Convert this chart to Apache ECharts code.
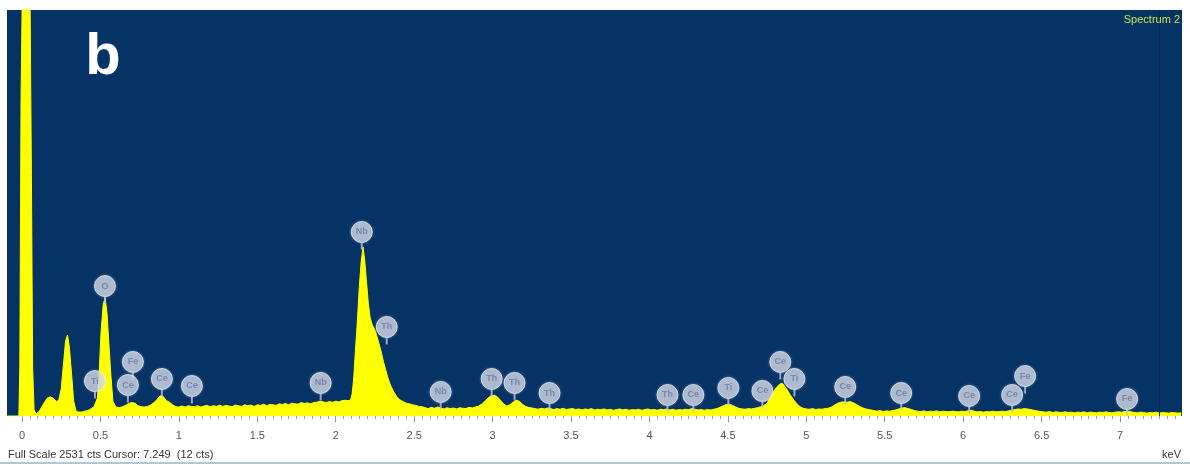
<!DOCTYPE html>
<html>
<head>
<meta charset="utf-8">
<script src="https://cdn.jsdelivr.net/npm/echarts@6/dist/echarts.min.js"></script>
<style>
html,body{margin:0;padding:0;background:#ffffff;}
#chart{width:1190px;height:466px;}
</style>
</head>
<body>
<div id="chart"></div>
<script>
// ---- Data (energy in keV, intensity in counts) ----
const fullScaleCounts = 2531;
const cursorKeV = 7.249;
const energyTickLabels = ['0','0.5','1','1.5','2','2.5','3','3.5','4','4.5','5','5.5','6','6.5','7'];

const zeroPeak = [[-0.095,0],[-0.02,0],[-0.014,300],[-0.006,2000],[0.005,2900],[0.02,3000],[0.035,3000],[0.05,2800],[0.06,1500],[0.068,300],[0.077,40],[0.09,12]];

const lowEnergy = [[0.11,30],[0.12,40],[0.14,80],[0.16,110],[0.18,120],[0.20,110],[0.22,90],[0.235,100],[0.25,170],[0.265,330],[0.278,470],[0.29,505],[0.302,430],[0.317,250],[0.33,90],[0.345,30],[0.36,25],[0.38,25],[0.40,30],[0.42,35],[0.44,45],[0.46,60],[0.48,110],[0.49,220],[0.503,510],[0.518,700],[0.53,735],[0.542,640],[0.552,480],[0.567,250],[0.58,90],[0.60,55],[0.62,52],[0.64,58],[0.66,66],[0.68,78],[0.70,84],[0.72,80],[0.74,64],[0.76,58],[0.78,56],[0.80,60],[0.82,68],[0.84,82],[0.86,102],[0.88,126],[0.90,122],[0.92,96],[0.94,86],[0.96,70],[0.98,58],[1.00,56],[1.02,62],[1.04,56],[1.06,64],[1.08,60]];

const midEnergy = [[1.10,58],[1.12,64],[1.14,56],[1.16,62],[1.18,66],[1.20,58],[1.22,64],[1.24,60],[1.26,68],[1.28,60],[1.30,66],[1.32,62],[1.34,58],[1.36,68],[1.38,64],[1.40,60],[1.42,70],[1.44,64],[1.46,68],[1.48,60],[1.50,70],[1.52,66],[1.54,74],[1.56,64],[1.58,72],[1.60,70],[1.62,66],[1.64,76],[1.66,72],[1.68,78],[1.70,70],[1.72,80],[1.74,76],[1.76,74],[1.78,84],[1.80,78],[1.82,82],[1.84,76],[1.86,84],[1.88,86],[1.90,92],[1.92,88],[1.94,84],[1.96,90],[1.98,86],[2.00,92],[2.02,88],[2.04,96],[2.06,98],[2.08,96],[2.095,100]];

const nbPeak = [[2.105,140],[2.115,240],[2.125,400],[2.136,560],[2.150,800],[2.162,960],[2.174,1054],[2.184,980],[2.196,840],[2.208,700],[2.220,610],[2.234,565],[2.248,540],[2.262,500],[2.276,450],[2.290,400],[2.304,340],[2.318,290],[2.332,240],[2.350,190],[2.370,150],[2.390,120],[2.410,100],[2.430,90],[2.450,80],[2.470,76],[2.490,70],[2.510,66],[2.530,60],[2.550,58]];

const highEnergy = [[2.57,52],[2.59,46],[2.61,54],[2.63,48],[2.65,56],[2.67,50],[2.69,44],[2.71,52],[2.73,46],[2.75,50],[2.77,44],[2.79,52],[2.81,48],[2.83,46],[2.85,54],[2.87,50],[2.89,56],[2.91,62],[2.93,74],[2.95,92],[2.97,112],[2.99,126],[3.01,130],[3.03,120],[3.05,98],[3.07,76],[3.09,62],[3.11,70],[3.13,86],[3.15,98],[3.17,92],[3.19,74],[3.21,60],[3.23,54],[3.25,50],[3.27,46],[3.29,42],[3.31,48],[3.33,44],[3.35,50],[3.37,46],[3.39,40],[3.41,46],[3.43,42],[3.45,48],[3.47,40],[3.49,44],[3.51,46],[3.53,40],[3.55,44],[3.57,38],[3.59,44],[3.61,40],[3.63,46],[3.65,38],[3.67,42],[3.69,40],[3.71,44],[3.73,38],[3.75,42],[3.77,36],[3.79,40],[3.81,44],[3.83,38],[3.85,42],[3.87,36],[3.89,40],[3.91,38],[3.93,42],[3.95,36],[3.97,40],[3.99,44],[4.01,38],[4.03,40],[4.05,36],[4.07,42],[4.09,40],[4.11,44],[4.13,38],[4.15,42],[4.17,36],[4.19,40],[4.21,38],[4.23,42],[4.25,40],[4.27,46],[4.29,42],[4.31,38],[4.33,40],[4.35,36],[4.37,40],[4.39,38],[4.41,42],[4.43,46],[4.45,54],[4.47,64],[4.49,72],[4.51,74],[4.53,66],[4.55,56],[4.57,48],[4.59,44],[4.61,42],[4.63,46],[4.65,44],[4.67,48],[4.69,52],[4.71,58],[4.73,66],[4.75,80],[4.77,115],[4.79,150],[4.81,180],[4.83,198],[4.845,205],[4.86,188],[4.88,160],[4.90,128],[4.92,100],[4.94,76],[4.96,58],[4.98,48],[5.00,44],[5.02,42],[5.04,46],[5.06,40],[5.08,44],[5.10,42],[5.12,46],[5.14,48],[5.16,56],[5.18,68],[5.20,80],[5.22,86],[5.24,88],[5.26,86],[5.28,90],[5.30,82],[5.32,72],[5.34,60],[5.36,50],[5.38,44],[5.40,40],[5.42,36]];

const tailEnergy = [[5.43,34],[5.45,30],[5.47,34],[5.49,28],[5.51,32],[5.53,30],[5.55,34],[5.57,38],[5.59,44],[5.61,50],[5.63,52],[5.65,46],[5.67,40],[5.69,34],[5.71,30],[5.73,28],[5.75,32],[5.77,26],[5.79,30],[5.81,28],[5.83,32],[5.85,26],[5.87,30],[5.89,28],[5.91,26],[5.93,30],[5.95,28],[5.97,26],[5.99,30],[6.01,28],[6.03,32],[6.05,36],[6.07,30],[6.09,26],[6.11,28],[6.13,24],[6.15,28],[6.17,26],[6.19,30],[6.21,26],[6.23,28],[6.25,30],[6.27,28],[6.29,32],[6.31,36],[6.33,40],[6.35,44],[6.37,42],[6.39,46],[6.41,44],[6.43,40],[6.45,36],[6.47,32],[6.49,28],[6.51,26],[6.53,24],[6.55,28],[6.57,22],[6.59,26],[6.61,24],[6.63,22],[6.65,26],[6.67,22],[6.69,24],[6.71,20],[6.73,24],[6.75,22],[6.77,26],[6.79,20],[6.81,24],[6.83,22],[6.85,20],[6.87,24],[6.89,22],[6.91,26],[6.93,22],[6.95,20],[6.97,24],[6.99,26],[7.01,24],[7.03,28],[7.05,30],[7.07,26],[7.09,22],[7.11,20],[7.13,24],[7.15,22],[7.17,18],[7.19,22],[7.21,20],[7.23,24],[7.25,18],[7.27,22],[7.29,20],[7.31,18],[7.33,22],[7.35,20],[7.37,18],[7.39,20]];

// Peak identification badges: element, energy (keV), badge height (counts)
const peakElements = ['Ti','O','Ce','Fe','Ce','Ce','Nb','Nb','Th','Nb','Th','Th','Th','Th','Ce','Ti','Ce','Ce','Ti','Ce','Ce','Ce','Ce','Fe','Fe'];
const peakKeV      = [0.465,0.529,0.675,0.707,0.892,1.083,1.904,2.166,2.325,2.669,2.994,3.14,3.363,4.115,4.28,4.503,4.72,4.834,4.924,5.248,5.605,6.038,6.312,6.395,7.045];
const peakBadgeCts = [218,810,193,337,231,187,206,1147,555,150,231,206,143,131,131,175,156,337,231,181,143,125,131,249,106];

// ---- Build chart ----
const spectrum = [].concat(zeroPeak, lowEnergy, midEnergy, nbPeak, highEnergy, tailEnergy);
const majorTicks = energyTickLabels.map(Number);
const minorTicks = [];
for (let i = 0; i <= 147; i++) minorTicks.push(+(i * 0.05).toFixed(2));
const badges = peakElements.map((el, i) => ({ value: [peakKeV[i], peakBadgeCts[i]], name: el }));

const xMin = -0.0956, xMax = 7.395;
const font = 'Liberation Sans, Arial, sans-serif';

const chart = echarts.init(document.getElementById('chart'), null, { renderer: 'canvas' });
chart.setOption({
  backgroundColor: '#ffffff',
  animation: false,
  grid: { left: 7, right: 8, top: 10, bottom: 50, show: true, backgroundColor: '#063366', borderWidth: 0 },
  xAxis: [
    {
      type: 'value', min: xMin, max: xMax, position: 'bottom',
      axisLine: { show: false }, splitLine: { show: false },
      axisTick: { show: true, customValues: majorTicks, length: 6, lineStyle: { color: '#8c8c8c', width: 1 } },
      axisLabel: { customValues: majorTicks, color: '#555555', fontSize: 11, margin: 14, fontFamily: font,
                   formatter: v => energyTickLabels[majorTicks.indexOf(v)] ?? '' }
    },
    {
      type: 'value', min: xMin, max: xMax, position: 'bottom', offset: 0,
      axisLine: { show: false }, splitLine: { show: false },
      axisTick: { show: true, customValues: minorTicks, length: 3, lineStyle: { color: '#a0a0a0', width: 1 } },
      axisLabel: { show: false }
    }
  ],
  yAxis: { type: 'value', min: 0, max: fullScaleCounts, show: false },
  series: [
    {
      type: 'line', data: spectrum, xAxisIndex: 0, showSymbol: false, clip: true,
      lineStyle: { color: '#ffff00', width: 1 },
      areaStyle: { color: '#ffff00', opacity: 1 },
      z: 2,
      markLine: {
        silent: true, symbol: 'none', label: { show: false },
        lineStyle: { color: '#0c2650', width: 1, type: 'solid' },
        data: [{ xAxis: cursorKeV }]
      }
    },
    {
      type: 'scatter', data: badges, xAxisIndex: 0, symbol: 'rect', symbolSize: [2, 7], symbolOffset: [0, 14],
      itemStyle: { color: '#b9c4dc' }, z: 3, silent: true
    },
    {
      type: 'scatter', data: badges, xAxisIndex: 0, symbol: 'circle', symbolSize: 21,
      itemStyle: { color: 'rgba(204,211,228,0.96)', borderColor: '#e6ebf4', borderWidth: 1, shadowColor: 'rgba(255,255,255,0.35)', shadowBlur: 3 },
      label: { show: true, position: 'inside', formatter: p => p.name, color: '#6f7c9a', fontSize: 9, fontWeight: 'bold', fontFamily: font },
      z: 4, silent: true
    }
  ],
  graphic: [
    { type: 'text', style: { text: 'b', x: 103, y: 58, align: 'center', verticalAlign: 'middle', fill: '#ffffff', font: 'bold 58px ' + font }, z: 10 },
    { type: 'text', style: { text: 'Spectrum 2', x: 1180, y: 20, align: 'right', verticalAlign: 'middle', fill: '#c6e34b', font: '11px ' + font }, z: 10 },
    { type: 'text', style: { text: 'Full Scale 2531 cts Cursor: 7.249  (12 cts)', x: 8, y: 455, align: 'left', verticalAlign: 'middle', fill: '#333333', font: '11px ' + font }, z: 10 },
    { type: 'text', style: { text: 'keV', x: 1181, y: 455, align: 'right', verticalAlign: 'middle', fill: '#333333', font: '11px ' + font }, z: 10 },
    { type: 'line', shape: { x1: 0, y1: 463, x2: 1190, y2: 463 }, style: { stroke: '#b3c5dc', lineWidth: 2 }, z: 10 }
  ]
});
</script>
</body>
</html>
